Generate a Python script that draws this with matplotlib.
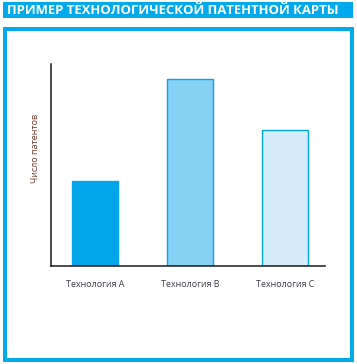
import matplotlib.pyplot as plt
from matplotlib.patches import Rectangle

# data
categories = ['Технология А', 'Технология В', 'Технология С']
patents = [85, 187, 136]
fills = ['#00a6e9', '#87d1f5', '#d5ecfa']
edge = '#00a6e9'
title = 'ПРИМЕР ТЕХНОЛОГИЧЕСКОЙ ПАТЕНТНОЙ КАРТЫ'

W, H = 357, 364
fig = plt.figure(figsize=(W / 100, H / 100), dpi=100)

# title banner
fig.patches.append(Rectangle((3 / W, 1 - 18 / H), 350 / W, 16 / H,
                             transform=fig.transFigure, facecolor='#00a9ec',
                             edgecolor='none'))
fig.text(7 / W, 1 - 11 / H, title, color='white', fontsize=9.45,
         fontweight='bold', family='Open Sans', va='center', ha='left')

# outer frame
fig.patches.append(Rectangle((5 / W, 1 - 360 / H), 347 / W, 331 / H,
                             transform=fig.transFigure, facecolor='none',
                             edgecolor='#00a9ec', linewidth=2.9))

ax = fig.add_axes([51 / W, 1 - 266 / H, 274 / W, 202 / H])
x = range(len(categories))
ax.bar(x, patents, width=0.485, color=fills, edgecolor=edge, linewidth=1)
ax.set_xlim(-0.46, 2.42)
ax.set_ylim(0, 202)
ax.set_xticks(list(x))
ax.set_xticklabels(categories, fontsize=6.4, color='#3c3c4a', family='Open Sans')
ax.tick_params(axis='x', length=0, pad=10)
ax.set_yticks([])
for s in ['top', 'right']:
    ax.spines[s].set_visible(False)
for s in ['left', 'bottom']:
    ax.spines[s].set_linewidth(1.1)
    ax.spines[s].set_color('#1a1a1a')

fig.text(35 / W, 1 - 148 / H, 'Число патентов', rotation=90, fontsize=6.5,
         color='#6b3a2a', family='Open Sans', va='center', ha='center')

plt.savefig('out.png', dpi=100)
